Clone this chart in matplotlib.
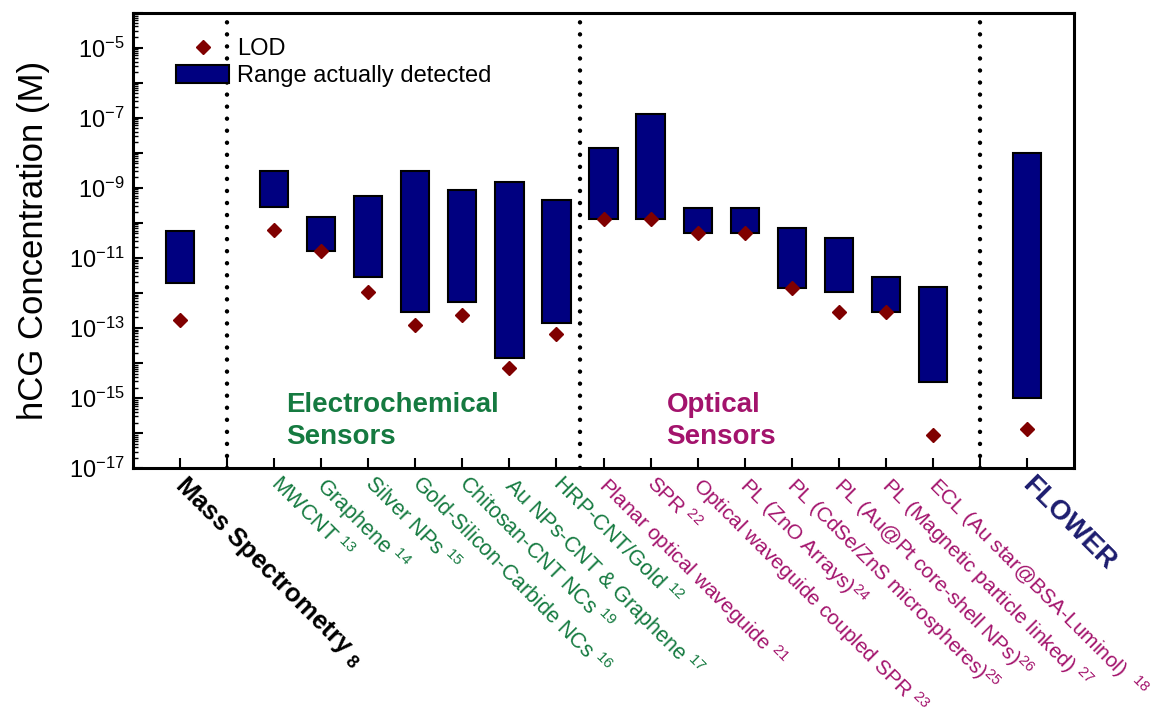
import numpy as np
import matplotlib

matplotlib.use("Agg")
import matplotlib.pyplot as plt
from matplotlib.ticker import FixedLocator, FuncFormatter, LogLocator, NullFormatter
from matplotlib.transforms import ScaledTranslation, blended_transform_factory

plt.rcParams["font.family"] = ["Liberation Sans", "DejaVu Sans"]
plt.rcParams["mathtext.fontset"] = "custom"
plt.rcParams["mathtext.rm"] = "Liberation Sans"
plt.rcParams["mathtext.it"] = "Liberation Sans:italic"
plt.rcParams["mathtext.bf"] = "Liberation Sans:bold"

# slot on the x axis for every method (1 and 17 are the gaps at the dividers)
positions = [0, 2, 3, 4, 5, 6, 7, 8, 9, 10, 11, 12, 13, 14, 15, 16, 18]
names = [
    "Mass Spectrometry", "MWCNT", "Graphene", "Silver NPs",
    "Gold-Silicon-Carbide NCs", "Chitosan-CNT NCs", "Au NPs-CNT & Graphene",
    "HRP-CNT/Gold", "Planar optical waveguide", "SPR",
    "Optical waveguide coupled SPR", "PL (ZnO Arrays)",
    "PL (CdSe/ZnS microspheres)", "PL (Au@Pt core-shell NPs)",
    "PL (Magnetic particle linked)", "ECL (Au star@BSA-Luminol)", "FLOWER",
]
refs = ["8", "13", "14", "15", "16", "19", "17", "12", "21", "22", "23",
        "24", "25", "26", "27", "18", ""]
groups = ["ms"] + ["ec"] * 7 + ["op"] * 8 + ["flower"]

# detected range (M) and limit of detection (M)
range_high = [5.8e-11, 3.0e-9, 1.5e-10, 5.8e-10, 3.0e-9, 8.7e-10, 1.45e-9,
              4.4e-10, 1.35e-8, 1.3e-7, 2.7e-10, 2.7e-10, 7.2e-11, 3.8e-11,
              2.95e-12, 1.5e-12, 1.0e-8]
range_low = [1.9e-12, 2.8e-10, 1.6e-11, 2.8e-12, 2.8e-13, 5.5e-13, 1.4e-14,
             1.4e-13, 1.26e-10, 1.26e-10, 5.1e-11, 5.1e-11, 1.4e-12, 1.1e-12,
             2.8e-13, 2.8e-15, 1.0e-15]
lod = [1.7e-13, 6.3e-11, 1.6e-11, 1.1e-12, 1.26e-13, 2.3e-13, 7.2e-15,
       6.8e-14, 1.3e-10, 1.3e-10, 5.1e-11, 5.1e-11, 1.4e-12, 2.8e-13,
       2.8e-13, 8.7e-17, 1.35e-16]

dividers = [1, 8.5, 17]

GREEN = "#157a40"
MAGENTA = "#a3136c"
NAVY_TXT = "#1c1c6e"
BAR = "#000080"
LODC = "#800000"

fig = plt.figure(figsize=(11.65, 7.19), dpi=100)
ax = fig.add_axes([0.1142, 0.3487, 0.8077, 0.6339])

heights = np.array(range_high) - np.array(range_low)
ax.bar(positions, heights, bottom=range_low, width=0.6, color=BAR,
       edgecolor="black", linewidth=1.5, label="Range actually detected",
       zorder=2)
ax.plot(positions, lod, linestyle="none", marker="D", markersize=7.5,
        color=LODC, markeredgecolor=LODC, label="LOD", zorder=3)

for xd in dividers:
    ax.axvline(xd, color="black", linewidth=3.2, linestyle=(0, (0.01, 2.7)),
               dash_capstyle="round", zorder=1)

ax.set_yscale("log")
ax.set_ylim(1e-17, 1e-4)
ax.set_xlim(-1, 19)

# every decade gets a tick, only the odd exponents are labelled
decades = [10.0 ** e for e in range(-17, -3)]
ax.yaxis.set_major_locator(FixedLocator(decades))
ax.yaxis.set_major_formatter(FuncFormatter(
    lambda v, _: r"$\mathregular{10^{%d}}$" % round(np.log10(v))
    if round(np.log10(v)) % 2 else ""))
ax.yaxis.set_minor_locator(LogLocator(base=10, subs=np.arange(2, 10), numticks=200))
ax.yaxis.set_minor_formatter(NullFormatter())

ax.tick_params(axis="y", which="major", direction="in", length=7.5, width=1.5,
               labelsize=17, pad=6)
ax.tick_params(axis="y", which="minor", direction="in", length=3.8, width=1.0)
ax.tick_params(axis="x", which="major", direction="in", length=7.5, width=1.5)

for sp in ax.spines.values():
    sp.set_linewidth(2.2)

ax.set_ylabel("hCG Concentration (M)", fontsize=25)
ax.yaxis.set_label_coords(-0.088, 0.5)

# ticks on every integer slot, method names drawn as slanted text below
ax.set_xticks(range(19))
ax.set_xticklabels([""] * 19)

style = {
    "ms": dict(color="black", fontweight="bold", fontsize=18.5),
    "ec": dict(color=GREEN, fontsize=15.5),
    "op": dict(color=MAGENTA, fontsize=15),
    "flower": dict(color=NAVY_TXT, fontweight="bold", fontsize=20),
}
lab_tr = blended_transform_factory(ax.transData, ax.transAxes) + \
    ScaledTranslation(0.08, -0.04, fig.dpi_scale_trans)
for p, n, r, g in zip(positions, names, refs, groups):
    if g == "ms":
        txt = n + r" $_{\mathbf{%s}}$" % r
    elif g == "flower":
        txt = n
    elif n.endswith(")") and r not in ("27", "18"):
        txt = n + r"$^{%s}$" % r
    elif r == "18":
        txt = n + r"  $^{%s}$" % r
    else:
        txt = n + r" $^{%s}$" % r
    ax.text(p, 0, txt, transform=lab_tr, rotation=-45, rotation_mode="anchor",
            ha="left", va="top", clip_on=False, **style[g])

# group captions inside the plot
tr = blended_transform_factory(ax.transData, ax.transAxes)
ax.text(2.26, 0.103, "Electrochemical\nSensors", transform=tr, color=GREEN,
        fontsize=20, fontweight="bold", ha="left", va="center", linespacing=1.3)
ax.text(10.34, 0.103, "Optical\nSensors", transform=tr, color=MAGENTA,
        fontsize=20, fontweight="bold", ha="left", va="center", linespacing=1.3)

handles, labels = ax.get_legend_handles_labels()
order = [labels.index("LOD"), labels.index("Range actually detected")]
ax.legend([handles[i] for i in order], [labels[i] for i in order],
          loc="upper left", bbox_to_anchor=(0.0457, 0.944), frameon=False,
          fontsize=17, handlelength=2.25, handleheight=0.8, handletextpad=0.35,
          labelspacing=0.2, borderpad=0, borderaxespad=0)

fig.savefig("out.png", dpi=100)
